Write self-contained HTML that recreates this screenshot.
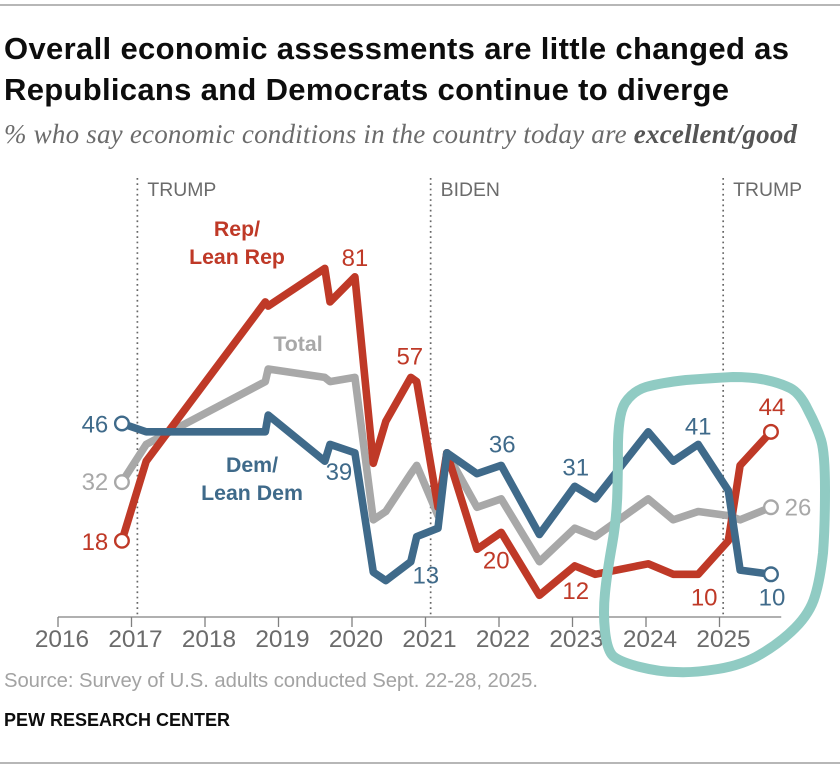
<!DOCTYPE html>
<html lang="en">
<head>
<meta charset="utf-8">
<title>Overall economic assessments</title>
<style>
html,body{margin:0;padding:0;background:#fff;}
svg{display:block;font-family:"Liberation Sans",sans-serif;}
</style>
</head>
<body>
<svg id="chart" width="840" height="768" viewBox="0 0 840 768" xmlns="http://www.w3.org/2000/svg">
  <rect x="0" y="0" width="840" height="768" fill="#fff"/>
  <line x1="0" x2="840" y1="5" y2="5" stroke="#8c8c8c" stroke-width="1.2"/>
  <text x="4" y="59" font-size="31" font-weight="700" fill="#0d0d0d" textLength="785" lengthAdjust="spacing">Overall economic assessments are little changed as</text>
  <text x="4" y="100" font-size="31" font-weight="700" fill="#0d0d0d" textLength="725" lengthAdjust="spacing">Republicans and Democrats continue to diverge</text>
  <text x="4" y="143" font-family="'Liberation Serif',serif" font-size="27" font-style="italic" fill="#6b6b6b" textLength="793" lengthAdjust="spacing">% who say economic conditions in the country today are <tspan font-weight="700" fill="#555">excellent/good</tspan></text>
  <g id="axis"></g>
  <g id="periods"></g>
  <g id="lines"></g>
  <g id="values"></g>
  <g font-size="21.3" font-weight="700" text-anchor="middle">
    <text x="237" y="236" fill="#bf3927">Rep/</text>
    <text x="237" y="264" fill="#bf3927">Lean Rep</text>
    <text x="298" y="351" fill="#a8a8a8">Total</text>
    <text x="252" y="472" fill="#3f6a8a">Dem/</text>
    <text x="252" y="500" fill="#3f6a8a">Lean Dem</text>
  </g>
  <path fill="none" stroke="#90cbc3" stroke-width="10" stroke-linecap="round" stroke-linejoin="round"
    d="M618,460 Q617,416 625,403 Q633,391 646,387 Q660,383 686,380 Q713,378 733,377 Q753,377 766,380 Q780,383 790,388 Q800,393 808,410 Q817,427 821,440 Q825,453 825,490 Q825,527 823,553 Q820,580 815,596 Q810,613 795,628 Q780,643 761,654 Q743,665 718,669 Q693,673 676,672 Q660,672 640,667 Q620,662 613,656 Q607,650 605,631 Q603,613 605,593 Q607,573 612,545 Q617,517 617.5,488 L618,460 Z"/>
  <text x="4" y="687" font-size="20.3" fill="#a3a3a3" textLength="534" lengthAdjust="spacing">Source: Survey of U.S. adults conducted Sept. 22-28, 2025.</text>
  <text x="4" y="726" font-size="18" font-weight="700" fill="#0d0d0d" textLength="226" lengthAdjust="spacing">PEW RESEARCH CENTER</text>
  <line x1="0" x2="840" y1="763" y2="763" stroke="#8c8c8c" stroke-width="1.2"/>
</svg>
<script>
const tickYears = [2016, 2017, 2018, 2019, 2020, 2021, 2022, 2023, 2024, 2025];
const dates = [2016.87, 2017.20, 2018.82, 2018.86, 2019.63, 2019.70, 2020.04, 2020.29, 2020.46, 2020.80, 2020.88, 2021.17, 2021.29, 2021.70, 2022.03, 2022.55, 2023.03, 2023.31, 2024.03, 2024.37, 2024.71, 2025.12, 2025.28, 2025.70];
const rep = [18, 37, 75, 74, 83, 75, 81, 36.5, 46.5, 57, 56, 26, 39, 16, 20, 5, 12, 10, 12.5, 10, 10, 18, 36, 44];
const total = [32, 41, 56, 59, 57, 56, 57, 23, 25, 34, 36, 24, 39, 26, 28, 13, 21, 19, 28, 23, 25, 24, 23, 26];
const dem = [46, 44, 44, 48, 37, 41, 39, 10.5, 8.5, 13, 19, 21, 39, 34, 36, 19.5, 31, 28, 44, 37, 41, 30, 11, 10];
const periodStarts = [2017.08, 2021.07, 2025.05];
const periodNames = ['TRUMP', 'BIDEN', 'TRUMP'];

const NS = 'http://www.w3.org/2000/svg';
const RED = '#bf3927', GRAY = '#a8a8a8', BLUE = '#3f6a8a';
const xAt = t => 58 + 73.5 * (t - 2016);
const yAt = v => 616.2 - 4.19 * v;
const axisEnd = 2025.84;

function make(parent, tag, attrs, text) {
  const el = document.createElementNS(NS, tag);
  for (const k in attrs) el.setAttribute(k, attrs[k]);
  if (text !== undefined) el.textContent = text;
  parent.appendChild(el);
  return el;
}

const axis = document.getElementById('axis');
const baseline = make(axis, 'line', {x1: xAt(2016), x2: xAt(axisEnd), y1: 617, y2: 617, stroke: '#808080', 'stroke-width': 1.3});


tickYears.forEach(function (yr) {
  const tick = make(axis, 'line', {x1: xAt(yr), x2: xAt(yr), y1: 617, y2: 627, stroke: '#808080', 'stroke-width': 1.3});
  
  
  const lab = make(axis, 'text', {x: xAt(yr) + 4, y: 647, 'font-size': 24.4, fill: '#6b6b6b', 'text-anchor': 'middle'}, String(yr));
  
  
});

const periods = document.getElementById('periods');
periodStarts.forEach(function (t, i) {
  const rule = make(periods, 'line', {x1: xAt(t), x2: xAt(t), y1: 178, y2: 616, stroke: '#666', 'stroke-width': 1.7, 'stroke-dasharray': '1.7 3.6'});
  
  
  const lab = make(periods, 'text', {x: xAt(t) + 10, y: 196, 'font-size': 19.4, fill: '#6b6b6b'}, periodNames[i]);
  
  
});

const lines = document.getElementById('lines');
function drawSeries(values, color, name) {
  const d = values.map((v, i) => (i ? 'L' : 'M') + xAt(dates[i]).toFixed(1) + ',' + yAt(v).toFixed(1)).join(' ');
  const path = make(lines, 'path', {d: d, fill: 'none', stroke: color, 'stroke-width': 7.6, 'stroke-linejoin': 'round', 'stroke-linecap': 'butt'});
  
  
  [0, values.length - 1].forEach(function (i) {
    const dot = make(lines, 'circle', {cx: xAt(dates[i]), cy: yAt(values[i]), r: 6.8, fill: '#fff', stroke: color, 'stroke-width': 2.4});
    
    
  });
}
drawSeries(total, GRAY, 'total');
drawSeries(rep, RED, 'rep');
drawSeries(dem, BLUE, 'dem');

const valuesLayer = document.getElementById('values');
function valueLabel(values, i, dx, dy, color, name) {
  const t = make(valuesLayer, 'text', {x: xAt(dates[i]) + dx, y: yAt(values[i]) + dy, 'font-size': 24, fill: color, 'text-anchor': 'middle'}, String(values[i]));
  
  
}
valueLabel(dem, 0, -27, 9, BLUE, 'dem');
valueLabel(total, 0, -27, 8, GRAY, 'total');
valueLabel(rep, 0, -27, 9, RED, 'rep');
valueLabel(rep, 6, 0, -11, RED, 'rep');
valueLabel(rep, 9, -1, -13, RED, 'rep');
valueLabel(dem, 6, -16, 27, BLUE, 'dem');
valueLabel(dem, 9, 15, 22, BLUE, 'dem');
valueLabel(dem, 14, 1, -13, BLUE, 'dem');
valueLabel(rep, 14, -5, 36, RED, 'rep');
valueLabel(dem, 16, 1, -11, BLUE, 'dem');
valueLabel(rep, 16, 1, 33, RED, 'rep');
valueLabel(dem, 20, 0, -10, BLUE, 'dem');
valueLabel(rep, 20, 6, 31, RED, 'rep');
valueLabel(rep, 23, 1, -17, RED, 'rep');
valueLabel(total, 23, 27, 8, GRAY, 'total');
valueLabel(dem, 23, 1, 31, BLUE, 'dem');
</script>
</body>
</html>
